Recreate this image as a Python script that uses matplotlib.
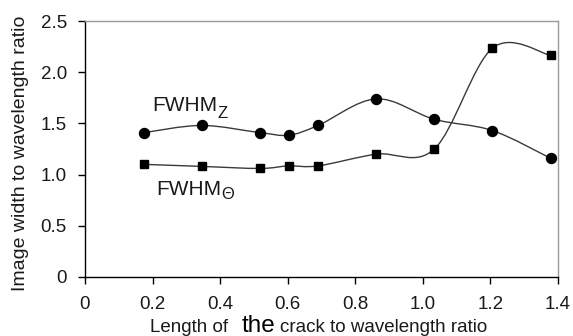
import matplotlib

matplotlib.use("Agg")
import matplotlib.pyplot as plt
import numpy as np
from matplotlib.patches import PathPatch
from matplotlib.path import Path

crack_ratio = [0.175, 0.345, 0.518, 0.603, 0.69, 0.862, 1.034, 1.206, 1.378]
fwhm_z = [1.41, 1.48, 1.41, 1.385, 1.48, 1.74, 1.54, 1.43, 1.16]
fwhm_theta = [1.10, 1.08, 1.06, 1.085, 1.085, 1.20, 1.25, 2.235, 2.165]

x_ticks = [0, 0.2, 0.4, 0.6, 0.8, 1.0, 1.2, 1.4]
x_tick_labels = ["0", "0.2", "0.4", "0.6", "0.8", "1.0", "1.2", "1.4"]
y_ticks = [0, 0.5, 1.0, 1.5, 2.0, 2.5]
y_tick_labels = ["0", "0.5", "1.0", "1.5", "2.0", "2.5"]

TEXT = "#1a1a1a"
LINE = "#3a3a3a"
plt.rcParams["font.family"] = ["Liberation Sans", "DejaVu Sans"]


def smooth_path(xs, ys):
    """Excel-like smoothed line through the points as cubic Bezier segments."""
    pts = np.column_stack([xs, ys]).astype(float)
    n = len(pts)
    verts = [pts[0]]
    codes = [Path.MOVETO]
    for i in range(n - 1):
        p_prev = pts[max(i - 1, 0)]
        p0, p1 = pts[i], pts[i + 1]
        p_next = pts[min(i + 2, n - 1)]
        c1 = p0 + (p1 - p_prev) / 6.0
        c2 = p1 - (p_next - p0) / 6.0
        verts += [c1, c2, p1]
        codes += [Path.CURVE4] * 3
    return Path(verts, codes)


fig = plt.figure(figsize=(5.73, 3.36), dpi=100)
ax = fig.add_axes([0.1483, 0.1756, 0.8255, 0.7619])

for values, marker, size in [(fwhm_z, "o", 7.2), (fwhm_theta, "s", 6.4)]:
    ax.add_patch(PathPatch(smooth_path(crack_ratio, values), facecolor="none",
                           edgecolor=LINE, linewidth=1.0))
    ax.plot(crack_ratio, values, linestyle="none", marker=marker,
            markersize=size, color="black")

ax.set_xlim(0, 1.4)
ax.set_ylim(0, 2.5)
ax.set_xticks(x_ticks, x_tick_labels)
ax.set_yticks(y_ticks, y_tick_labels)
ax.tick_params(direction="out", length=5, width=1.0, labelsize=13.5,
               labelcolor=TEXT, color="black")
ax.tick_params(axis="x", pad=8.5)
ax.tick_params(axis="y", pad=8)

for side in ("left", "bottom"):
    ax.spines[side].set_color("black")
    ax.spines[side].set_linewidth(1.0)
for side in ("top", "right"):
    ax.spines[side].set_color("#9a9a9a")
    ax.spines[side].set_linewidth(1.0)

# series labels
ax.text(0.2, 1.624, "FWHM", fontsize=15, color=TEXT, va="baseline")
ax.text(0.392, 1.553, "Z", fontsize=12, color=TEXT, va="baseline")
ax.text(0.212, 0.80, "FWHM", fontsize=15, color=TEXT, va="baseline")
ax.text(0.403, 0.757, "\u0398", fontsize=12, color=TEXT, va="baseline")

fig.text(0.036, 0.545, "Image width to wavelength ratio", rotation=90,
         fontsize=14, color=TEXT, ha="center", va="center")

# x label: "the" is set larger than the rest
base_y = 1 - 332.5 / 336
fig.text(150 / 573, base_y, "Length of", fontsize=13.5, color=TEXT, va="baseline")
fig.text(241.5 / 573, base_y, "the", fontsize=17.5, color="black", va="baseline")
fig.text(280 / 573, base_y, "crack to wavelength ratio", fontsize=13.5,
         color=TEXT, va="baseline")

fig.savefig("out.png", dpi=100)
plt.close(fig)
